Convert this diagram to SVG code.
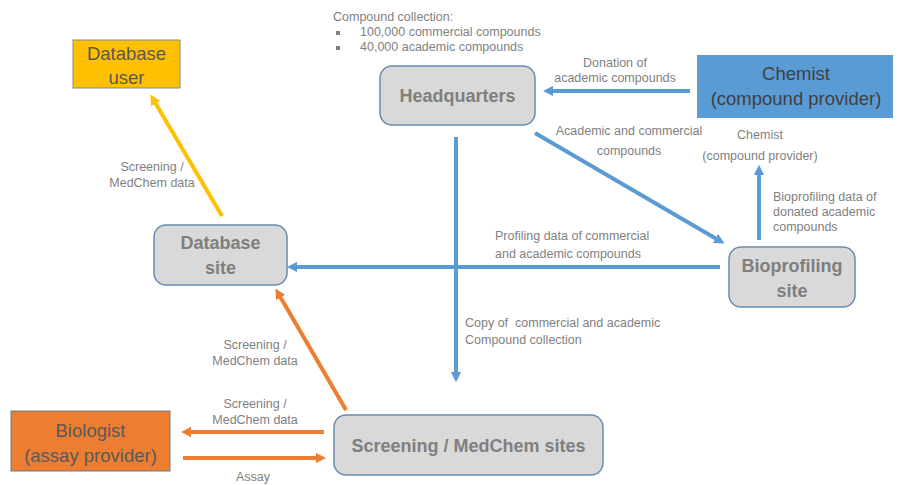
<svg xmlns="http://www.w3.org/2000/svg" width="898" height="485" viewBox="0 0 898 485">
  <defs>
    <marker id="ahBlue" viewBox="0 0 10 10" refX="5" refY="5" markerWidth="2.6" markerHeight="2.6" orient="auto" markerUnits="strokeWidth">
      <path d="M0,0 L10,5 L0,10 z" fill="#5B9BD5"/>
    </marker>
    <marker id="ahOrange" viewBox="0 0 10 10" refX="5" refY="5" markerWidth="2.6" markerHeight="2.6" orient="auto" markerUnits="strokeWidth">
      <path d="M0,0 L10,5 L0,10 z" fill="#ED7D31"/>
    </marker>
    <marker id="ahYellow" viewBox="0 0 10 10" refX="5" refY="5" markerWidth="2.6" markerHeight="2.6" orient="auto" markerUnits="strokeWidth">
      <path d="M0,0 L10,5 L0,10 z" fill="#FFC000"/>
    </marker>
  </defs>
  <style>
    text { font-family: "Liberation Sans", Arial, sans-serif; }
    .site { fill: #D9D9D9; stroke: #6A8CAF; stroke-width: 1.5; }
    .siteTxt { font-size: 18px; font-weight: bold; fill: #7F7F7F; text-anchor: middle; }
    .actorTxt { font-size: 18.5px; fill: #404040; text-anchor: middle; }
    .actorSoft { fill: #595959; }
    .lbl { font-size: 12.5px; fill: #7F7F7F; }
    .mid { text-anchor: middle; }
    .blue { stroke: #5B9BD5; stroke-width: 4; fill: none; marker-end: url(#ahBlue); }
    .orange { stroke: #ED7D31; stroke-width: 4; fill: none; marker-end: url(#ahOrange); }
    .yellow { stroke: #FFC000; stroke-width: 4; fill: none; marker-end: url(#ahYellow); }
  </style>
  <rect width="898" height="485" fill="#FFFFFF"/>

  <!-- connectors -->
  <g id="connectors">
    <line class="blue" x1="690" y1="91" x2="548" y2="91"/>
    <line class="blue" x1="535" y1="133" x2="720" y2="241"/>
    <line class="blue" x1="759" y1="240" x2="759" y2="170"/>
    <line class="blue" x1="720" y1="267" x2="292" y2="267"/>
    <line class="blue" x1="456" y1="137" x2="456" y2="377"/>
    <line class="yellow" x1="222" y1="216" x2="153" y2="99"/>
    <line class="orange" x1="346" y1="410" x2="278" y2="293"/>
    <line class="orange" x1="324" y1="432" x2="186" y2="432"/>
    <line class="orange" x1="183" y1="458" x2="321" y2="458"/>

    <text class="lbl mid" x="615" y="67">Donation of</text>
    <text class="lbl mid" x="615" y="82">academic compounds</text>
    <text class="lbl mid" x="629" y="135">Academic and commercial</text>
    <text class="lbl mid" x="629" y="155">compounds</text>
    <text class="lbl" x="773" y="201">Bioprofiling data of</text>
    <text class="lbl" x="773" y="216">donated academic</text>
    <text class="lbl" x="773" y="231">compounds</text>
    <text class="lbl" x="495" y="240">Profiling data of commercial</text>
    <text class="lbl" x="495" y="258">and academic compounds</text>
    <text class="lbl" x="465" y="327" xml:space="preserve">Copy of  commercial and academic</text>
    <text class="lbl" x="465" y="344">Compound collection</text>
    <text class="lbl mid" x="152" y="171">Screening /</text>
    <text class="lbl mid" x="152" y="187">MedChem data</text>
    <text class="lbl mid" x="255" y="349">Screening /</text>
    <text class="lbl mid" x="255" y="365">MedChem data</text>
    <text class="lbl mid" x="255" y="408">Screening /</text>
    <text class="lbl mid" x="255" y="424">MedChem data</text>
    <text class="lbl mid" x="253" y="481">Assay</text>
  </g>

  <!-- compound collection note -->
  <g id="collection-note">
    <text class="lbl" x="333" y="21">Compound collection:</text>
    <rect x="336" y="31" width="4" height="4" fill="#7F7F7F"/>
    <text class="lbl" x="360" y="36">100,000 commercial compounds</text>
    <rect x="336" y="46" width="4" height="4" fill="#7F7F7F"/>
    <text class="lbl" x="360" y="51">40,000 academic compounds</text>
  </g>

  <g id="database-user">
    <rect x="73" y="40" width="107" height="48" fill="#FFC000" stroke="#7F8A8F" stroke-width="1"/>
    <text class="actorTxt actorSoft" x="126.5" y="60">Database</text>
    <text class="actorTxt actorSoft" x="126.5" y="84">user</text>
  </g>

  <g id="headquarters">
    <rect class="site" x="380" y="66" width="155" height="59" rx="12"/>
    <text class="siteTxt" x="457.5" y="102">Headquarters</text>
  </g>

  <g id="chemist">
    <rect x="697" y="55" width="196" height="63" fill="#5B9BD5"/>
    <text class="actorTxt" x="796" y="80">Chemist</text>
    <text class="actorTxt" x="796" y="105">(compound provider)</text>
  </g>

  <g id="chemist-label">
    <text class="lbl mid" x="760" y="139">Chemist</text>
    <text class="lbl mid" x="760" y="160">(compound provider)</text>
  </g>

  <g id="bioprofiling-site">
    <rect class="site" x="729" y="247" width="126" height="60" rx="12"/>
    <text class="siteTxt" x="792" y="272">Bioprofiling</text>
    <text class="siteTxt" x="792" y="297">site</text>
  </g>

  <g id="database-site">
    <rect class="site" x="154" y="225" width="133" height="60" rx="12"/>
    <text class="siteTxt" x="220.5" y="249">Database</text>
    <text class="siteTxt" x="220.5" y="274">site</text>
  </g>

  <g id="screening-sites">
    <rect class="site" x="334" y="415" width="269" height="60" rx="12"/>
    <text class="siteTxt" x="468.5" y="452">Screening / MedChem sites</text>
  </g>

  <g id="biologist">
    <rect x="11" y="411" width="159" height="60" fill="#ED7D31" stroke="#6A7A8A" stroke-width="1"/>
    <text class="actorTxt actorSoft" x="90.5" y="437">Biologist</text>
    <text class="actorTxt actorSoft" x="90.5" y="462">(assay provider)</text>
  </g>
</svg>
